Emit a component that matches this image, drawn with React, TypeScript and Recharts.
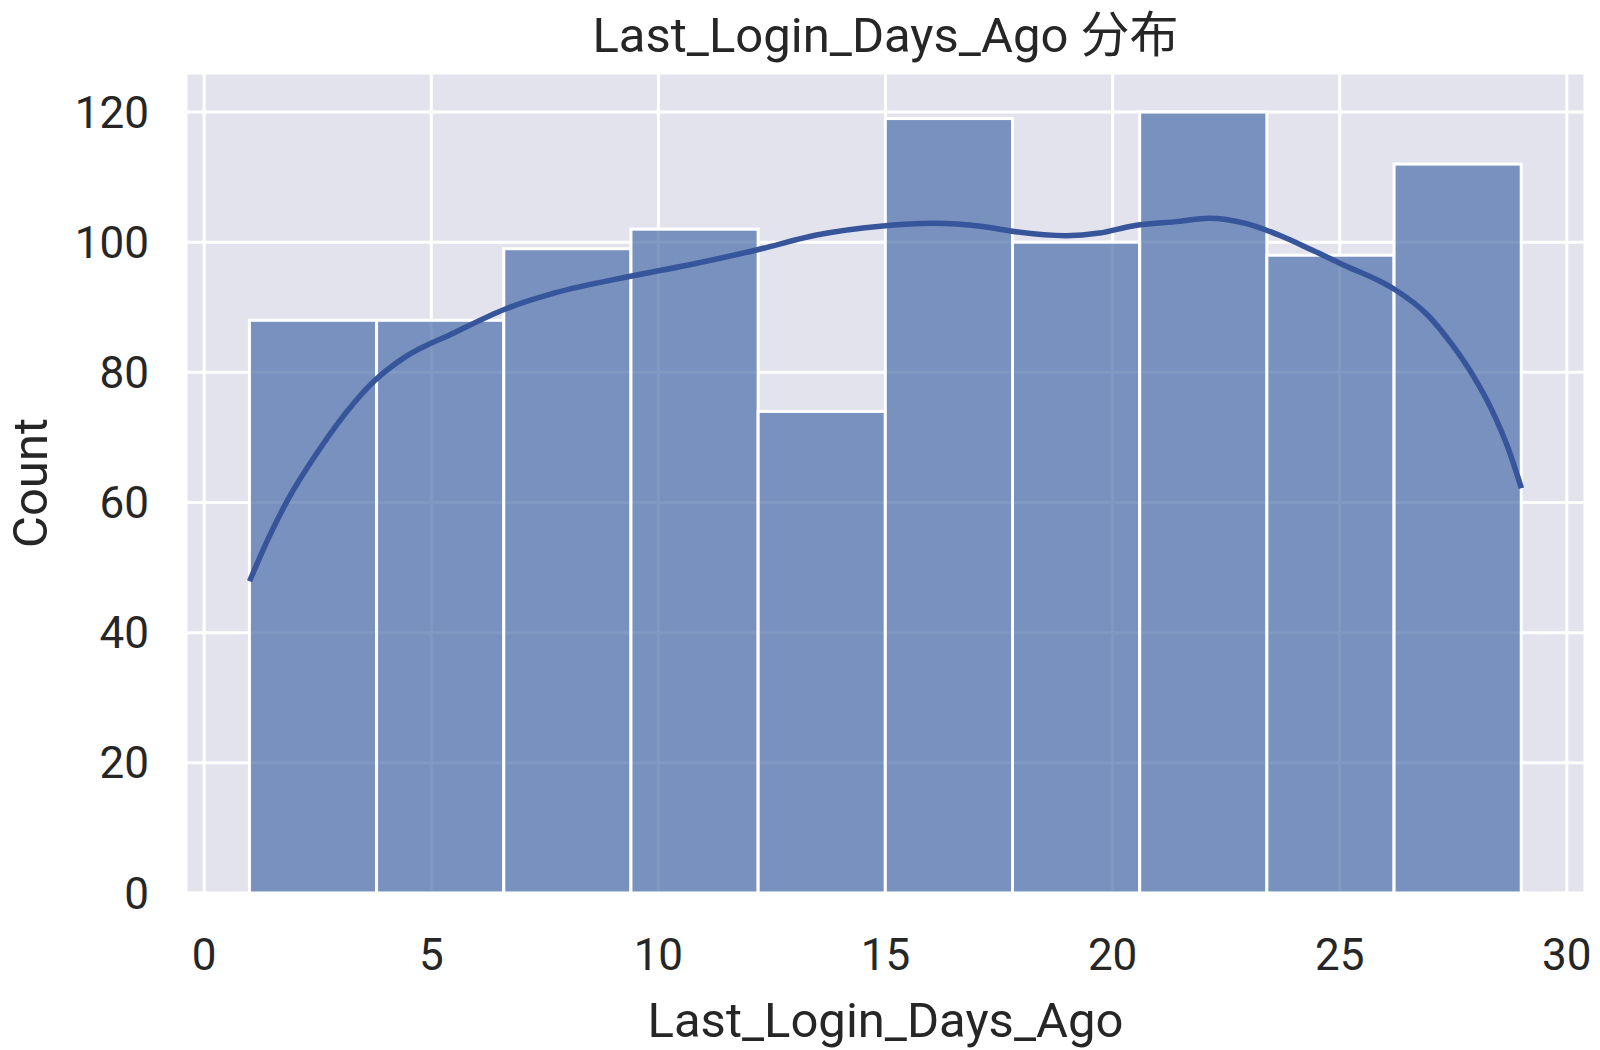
import React from 'react'
import { ComposedChart, Bar, Line, XAxis, YAxis, CartesianGrid } from 'recharts'

// histogram bins (edges 1 .. 29, width 2.8)
const binEdges = [1, 3.8, 6.6, 9.4, 12.2, 15, 17.8, 20.6, 23.4, 26.2, 29]
const binCounts = [88, 88, 99, 102, 74, 119, 100, 120, 98, 112]

// kde curve
const kdeX = [1.0, 1.4, 1.84, 2.57, 3.31, 3.75, 4.41, 5.51, 6.62, 7.72, 9.41, 10.66, 12.16, 13.48, 14.94, 16.04, 17.14, 17.87, 18.97, 19.71, 20.44, 21.46, 22.12, 22.93, 23.66, 24.39, 25.12, 25.86, 26.22, 26.95, 27.47, 27.91, 28.35, 28.71, 29.0]
const kdeY = [47.9, 54.3, 60.4, 68.5, 75.4, 78.7, 82.3, 86.1, 89.7, 92.2, 94.8, 96.5, 98.8, 101.1, 102.5, 102.9, 102.4, 101.6, 101.0, 101.4, 102.5, 103.2, 103.7, 102.9, 101.1, 98.8, 96.4, 94.1, 92.7, 88.7, 84.3, 79.8, 74.2, 68.3, 62.2]

const xTicks = [0, 5, 10, 15, 20, 25, 30]
const yTicks = [0, 20, 40, 60, 80, 100, 120]

const W = 1600
const H = 1050
const M = { top: 73, right: 15, bottom: 0, left: 0 }
const Y_W = 186
const X_H = 157
const X_DOMAIN: [number, number] = [-0.4, 30.4]
const plotW = W - M.left - M.right - Y_W
const plotH = H - M.top - M.bottom - X_H
const BAR_PX = (plotW * (binEdges[1] - binEdges[0])) / (X_DOMAIN[1] - X_DOMAIN[0])

const FONT = 'Roboto, "Noto Sans CJK SC", sans-serif'
const TEXT = '#262626'
const BG = '#e3e3ee'
const BAR = '#5575ae'
const KDE = '#37559b'

const rows = [
  ...binCounts.map((c, i) => ({ x: (binEdges[i] + binEdges[i + 1]) / 2, count: c })),
  ...kdeX.map((x, i) => ({ x, kde: kdeY[i] })),
].sort((a, b) => a.x - b.x)

// bar centred on the bin centre, as wide as the bin
function BinRect(props: any) {
  const { x, y, width, height } = props
  if (height == null || height <= 0) return null
  const cx = x + width / 2
  return (
    <rect
      x={cx - BAR_PX / 2}
      y={y}
      width={BAR_PX}
      height={height}
      fill={BAR}
      fillOpacity={0.75}
      stroke="#fff"
      strokeWidth={3}
    />
  )
}

export default function App() {
  return (
    <div style={{ width: W, height: H, position: 'relative', background: '#fff', fontFamily: FONT }}>
      <style>{'body{margin:0}'}</style>
      <ComposedChart width={W} height={H} data={rows} margin={M}>
        <CartesianGrid stroke="#fff" strokeWidth={3} fill={BG} fillOpacity={1} />
        <XAxis
          dataKey="x"
          type="number"
          domain={X_DOMAIN}
          ticks={xTicks}
          allowDataOverflow
          height={X_H}
          axisLine={false}
          tickLine={false}
          tick={{ fill: TEXT, fontSize: 44, fontFamily: FONT }}
          tickMargin={40}
        />
        <YAxis
          type="number"
          domain={[0, 126]}
          ticks={yTicks}
          allowDataOverflow
          width={Y_W}
          axisLine={false}
          tickLine={false}
          tick={{ fill: TEXT, fontSize: 44, fontFamily: FONT }}
          tickMargin={31}
        />
        <Bar dataKey="count" shape={BinRect} fill={BAR} isAnimationActive={false} />
        <Line dataKey="kde" type="monotone" stroke={KDE} strokeWidth={5.5} dot={false} connectNulls isAnimationActive={false} />
      </ComposedChart>
      <svg width={W} height={H} style={{ position: 'absolute', left: 0, top: 0, pointerEvents: 'none' }}>
        <text x={Y_W + plotW / 2} y={52} textAnchor="middle" fontSize={49} fill={TEXT} fontFamily={FONT}>
          Last_Login_Days_Ago 分布
        </text>
        <text x={Y_W + plotW / 2} y={1037} textAnchor="middle" fontSize={49} fill={TEXT} fontFamily={FONT}>
          Last_Login_Days_Ago
        </text>
        <text
          x={47}
          y={M.top + plotH / 2}
          textAnchor="middle"
          fontSize={49}
          fill={TEXT}
          fontFamily={FONT}
          transform={`rotate(-90 47 ${M.top + plotH / 2})`}
        >
          Count
        </text>
      </svg>
    </div>
  )
}
